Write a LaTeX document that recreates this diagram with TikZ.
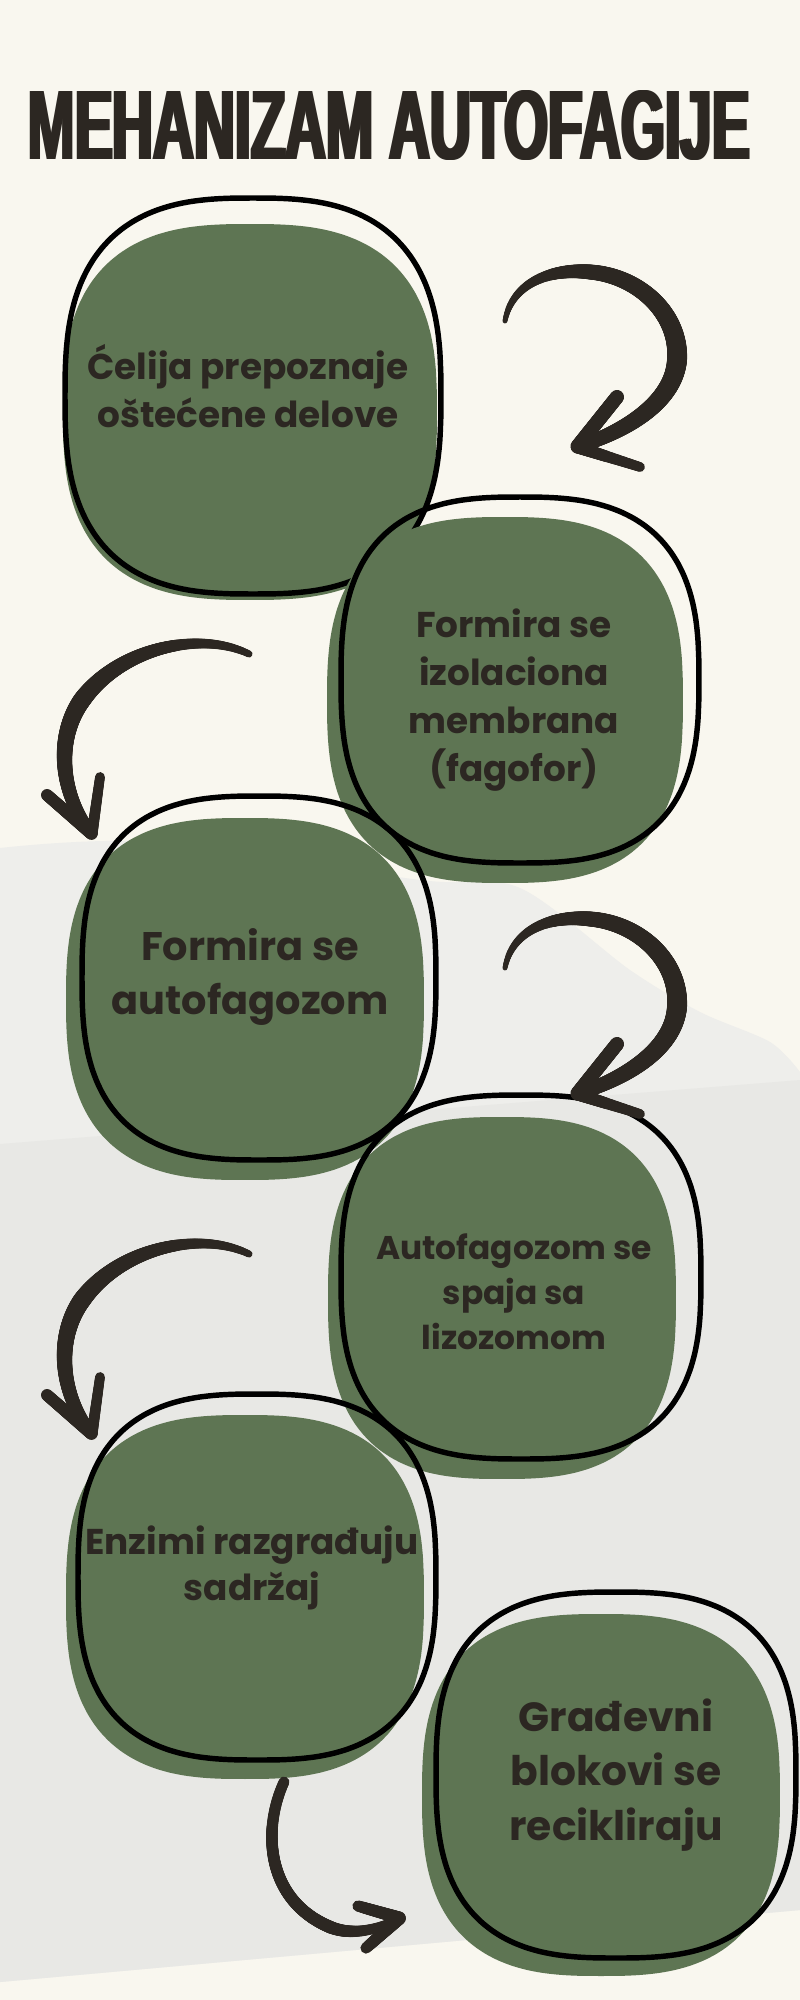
\documentclass[tikz,border=0pt]{standalone}
\usepackage{fontspec}
\usepackage{graphicx}
\setmainfont{Poppins}
\newfontface\titlefont{Liberation Sans Bold}
\usetikzlibrary{decorations.markings}

\definecolor{cream}{RGB}{249,247,239}
\definecolor{fog}{RGB}{238,238,235}
\definecolor{fogdark}{RGB}{232,232,229}
\definecolor{leaf}{RGB}{94,117,83}
\definecolor{ink}{RGB}{44,39,34}

% squircle blob: centre x, centre y, half width, half height
\newcommand{\blob}[4]{plot[domain=2.5:357.5,samples=72,smooth] ({#1+#3*cos(\x)*pow(abs(cos(\x)),-0.27)},{#2+#4*sin(\x)*pow(abs(sin(\x)),-0.27)}) -- cycle}

% brush stroke, radius goes from #1 pt to #2 pt along the path
\tikzset{
  brush/.style 2 args={decorate, decoration={markings,
      mark=between positions 0 and 1 step 0.5pt with {
        \pgfmathsetmacro{\brushr}{#1+(#2-#1)*\pgfkeysvalueof{/pgf/decoration/mark info/distance from start}/\pgfdecoratedpathlength}
        \fill[ink] (0,0) circle (\brushr pt);}}},
}

\begin{document}
\begin{tikzpicture}
    [line cap=round,line join=round,x=0.02cm,y=-0.02cm,
     rim/.style={draw=black,line width=3.1pt},
     steptext/.style={text=ink,align=center,inner sep=0pt}]
\useasboundingbox (0,0) rectangle (800,2000);
%background
\fill[cream] (0,0) rectangle (800,2000);
\fill[fog] plot[smooth] coordinates {(0,848) (150,842) (420,880) (520,888) (630,970) (700,1012) (770,1042) (800,1072)} -- (800,1910) -- (0,1982) -- cycle;
\fill[fogdark] (0,1144) -- (800,1080) -- (800,1910) -- (0,1982) -- cycle;

%title
\node[inner sep=0pt,text=ink] (title) at (389,125.5)
   {\resizebox{14.52cm}{1.38cm}{\titlefont\rlap{MEHANIZAM AUTOFAGIJE}\kern0.035em\rlap{MEHANIZAM AUTOFAGIJE}\kern0.035em MEHANIZAM AUTOFAGIJE}};

%blobs, green first then the black rim
\fill[leaf] \blob{250}{412}{187}{188};
\draw[rim] \blob{253}{396}{188}{198};

\fill[leaf] \blob{505}{700}{178}{183};
\draw[rim] \blob{520}{680}{179}{183};

\fill[leaf] \blob{245}{999}{179}{181};
\draw[rim] \blob{259}{978}{177}{182};

\fill[leaf] \blob{502}{1298}{174}{181};
\draw[rim] \blob{521}{1277}{180}{182};

\fill[leaf] \blob{245}{1597}{179}{182};
\draw[rim] \blob{257}{1577}{179}{183};

\fill[leaf] \blob{601}{1795}{179}{181};
\draw[rim] \blob{616}{1775}{180}{183};

%texts
\node[steptext,font=\bfseries\fontsize{20.4}{27.2}\selectfont] (step1) at (248,386) {Ćelija prepoznaje\\oštećene delove};
\node[steptext,font=\bfseries\fontsize{20.4}{27.2}\selectfont] (step2) at (514,700) {Formira se\\izolaciona\\membrana\\(fagofor)};
\node[steptext,font=\bfseries\fontsize{22.7}{30.6}\selectfont] (step3) at (250,977) {Formira se\\autofagozom};
\node[steptext,font=\bfseries\fontsize{18.7}{25.5}\selectfont] (step4) at (514,1292) {Autofagozom se\\spaja sa\\lizozomom};
\node[steptext,font=\bfseries\fontsize{20.4}{26.6}\selectfont] (step5) at (252,1568) {Enzimi razgrađuju\\sadržaj};
\node[steptext,font=\bfseries\fontsize{23.2}{31.2}\selectfont] (step6) at (616,1775) {Građevni\\blokovi se\\recikliraju};

%arrow 1 to 2
\coordinate (a1tail) at (505,321);
\coordinate (a1top) at (590,272);
\coordinate (a1side) at (677,360);
\coordinate (a1tip) at (577,447);
\coordinate (a1up) at (617,397);
\coordinate (a1low) at (640,467);
\path[brush={1.4}{4.25}] (a1tail) .. controls (512,283) and (550,268) .. (a1top);
\path[brush={4.25}{5.7}] (a1top) .. controls (640,276) and (680,315) .. (a1side);
\path[brush={5.7}{3.7}] (a1side) .. controls (674,400) and (630,430) .. (a1tip);
\path[brush={4}{4}] (a1up) -- (a1tip);
\path[brush={2.8}{3.6}] (a1low) -- (a1tip);

%arrow 2 to 3
\coordinate (a2tail) at (249,654);
\coordinate (a2side) at (82,700);
\coordinate (a2tip) at (92,834);
\coordinate (a2up) at (100,777);
\coordinate (a2low) at (47,795);
\path[brush={2}{5.1}] (a2tail) .. controls (200,630) and (120,648) .. (a2side);
\path[brush={5.1}{3.4}] (a2side) .. controls (55,738) and (60,795) .. (a2tip);
\path[brush={2.8}{3.2}] (a2up) -- (a2tip);
\path[brush={3.4}{3.6}] (a2low) -- (a2tip);

%arrow 3 to 4
\coordinate (a3tail) at (505,968);
\coordinate (a3top) at (590,919);
\coordinate (a3side) at (677,1007);
\coordinate (a3tip) at (577,1094);
\coordinate (a3up) at (617,1044);
\coordinate (a3low) at (640,1114);
\path[brush={1.4}{4.25}] (a3tail) .. controls (512,930) and (550,915) .. (a3top);
\path[brush={4.25}{5.7}] (a3top) .. controls (640,923) and (680,962) .. (a3side);
\path[brush={5.7}{3.7}] (a3side) .. controls (674,1047) and (630,1077) .. (a3tip);
\path[brush={4}{4}] (a3up) -- (a3tip);
\path[brush={2.8}{3.6}] (a3low) -- (a3tip);

%arrow 4 to 5
\coordinate (a4tail) at (249,1254);
\coordinate (a4side) at (82,1300);
\coordinate (a4tip) at (92,1434);
\coordinate (a4up) at (100,1377);
\coordinate (a4low) at (47,1395);
\path[brush={2}{5.1}] (a4tail) .. controls (200,1230) and (120,1248) .. (a4side);
\path[brush={5.1}{3.4}] (a4side) .. controls (55,1338) and (60,1395) .. (a4tip);
\path[brush={2.8}{3.2}] (a4up) -- (a4tip);
\path[brush={3.4}{3.6}] (a4low) -- (a4tip);

%arrow 5 to 6
\coordinate (a5tail) at (284,1782);
\coordinate (a5bend) at (330,1927);
\coordinate (a5tip) at (400,1918);
\coordinate (a5up) at (358,1906);
\coordinate (a5low) at (366,1948);
\path[brush={3.1}{3.6}] (a5tail) .. controls (262,1830) and (266,1900) .. (a5bend);
\path[brush={3.6}{2.5}] (a5bend) .. controls (352,1936) and (378,1930) .. (a5tip);
\path[brush={3.2}{3.6}] (a5up) -- (a5tip);
\path[brush={3.2}{3.6}] (a5low) -- (a5tip);

\end{tikzpicture}
\end{document}
